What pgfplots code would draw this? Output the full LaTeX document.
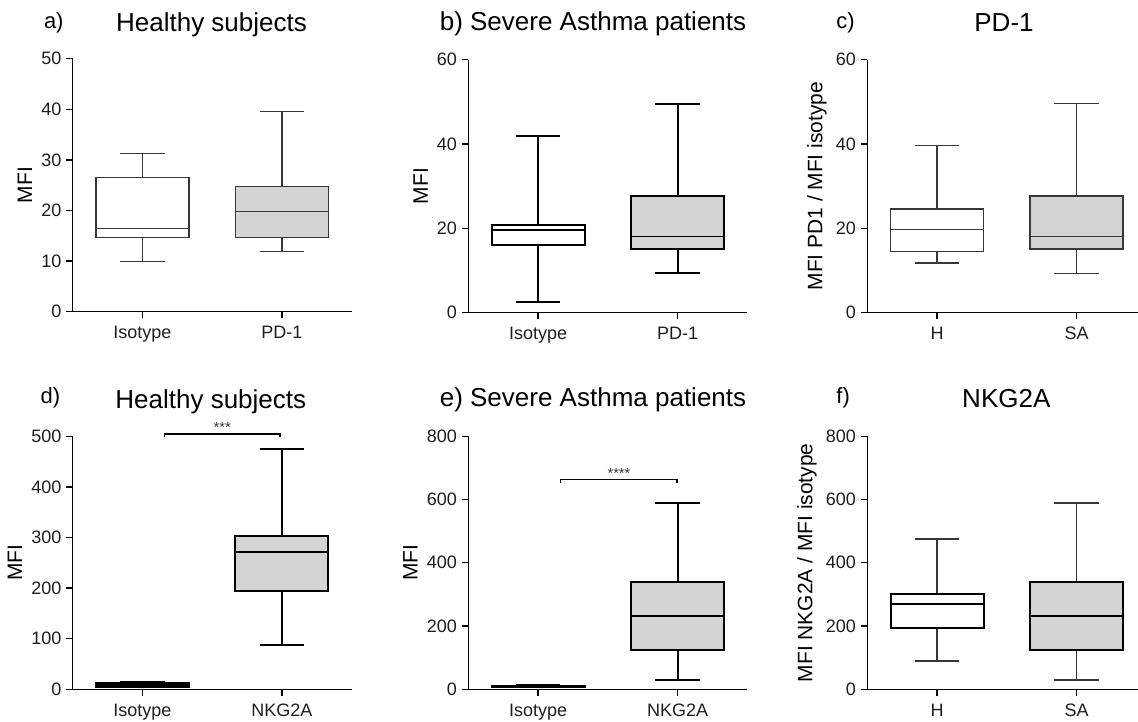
\documentclass[border=0pt]{standalone}
\usepackage{fontspec}
\setmainfont{Liberation Sans}
\usepackage{pgfplots}
\pgfplotsset{compat=1.18}
\usepgfplotslibrary{statistics}
\definecolor{boxgray}{RGB}{212,212,212}
\definecolor{tickgray}{RGB}{30,30,30}
\definecolor{linegray}{RGB}{55,55,55}

\pgfplotsset{
  gp/.style={
    scale only axis, width=209.25pt, height=189.75pt,
    axis lines=left, axis line style={-, black, line width=1.1pt},
    xmin=-0.5, xmax=1.5, ymin=0,
    xtick={0,1},
    tick align=outside, major tick length=5pt,
    tick style={black, line width=1pt},
    ticklabel style={font=\fontsize{13.5}{13.5}\selectfont, text=tickgray},
    xticklabel style={yshift=-2.5pt},
    /pgf/number format/assume math mode=true,
    ylabel style={font=\fontsize{15.7}{15.7}\selectfont},
    boxplot/draw direction=y,
    boxplot/box extend=0.667,
    boxplot/whisker extend=0.32,
    clip=false,
  }
}
\newcommand{\ttl}{\fontsize{19.5}{19.5}\selectfont}
\newcommand{\lbl}{\fontsize{16.5}{16.5}\selectfont}

\begin{document}
\begin{tikzpicture}[x=0.75pt,y=0.75pt]
\useasboundingbox (0,0) rectangle (1138,721);

% ---------- a) ----------
\begin{axis}[gp, at={(54.525pt,306.975pt)}, anchor=south west,
  ymax=50, ytick={0,10,...,50}, xticklabels={Isotype,PD-1}, ylabel={MFI}]
\addplot[draw=linegray, fill=white, line width=0.9pt,
  boxplot prepared={lower whisker=9.9, lower quartile=14.6, median=16.5,
  upper quartile=26.5, upper whisker=31.2, draw position=0}] coordinates {};
\addplot[draw=linegray, fill=boxgray, line width=0.9pt,
  boxplot prepared={lower whisker=11.9, lower quartile=14.6, median=19.75,
  upper quartile=24.7, upper whisker=39.6, draw position=1}] coordinates {};
\end{axis}

% ---------- b) ----------
\begin{axis}[gp, at={(351.225pt,306.225pt)}, anchor=south west,
  ymax=60, ytick={0,20,40,60}, xticklabels={Isotype,PD-1}, ylabel={MFI}]
\addplot[draw=black, fill=white, line width=1.5pt,
  boxplot prepared={lower whisker=2.5, lower quartile=16.0, median=19.7,
  upper quartile=20.9, upper whisker=41.9, draw position=0}] coordinates {};
\addplot[draw=black, fill=boxgray, line width=1.5pt,
  boxplot/every median/.style={line width=0.9pt},
  boxplot prepared={lower whisker=9.3, lower quartile=15.1, median=18.1,
  upper quartile=27.7, upper whisker=49.6, draw position=1}] coordinates {};
\end{axis}

% ---------- c) ----------
\begin{axis}[gp, at={(650.475pt,306.225pt)}, anchor=south west,
  ymax=60, ytick={0,20,40,60}, xticklabels={H,SA}, ylabel={MFI PD1 / MFI isotype}]
\addplot[draw=linegray, fill=white, line width=1pt,
  boxplot prepared={lower whisker=11.8, lower quartile=14.5, median=19.7,
  upper quartile=24.6, upper whisker=39.6, draw position=0}] coordinates {};
\addplot[draw=linegray, fill=boxgray, line width=1pt,
  boxplot prepared={lower whisker=9.3, lower quartile=15.1, median=18.1,
  upper quartile=27.7, upper whisker=49.6, draw position=1}] coordinates {};
\end{axis}

% ---------- d) ----------
\begin{axis}[gp, at={(54.525pt,23.775pt)}, anchor=south west,
  ymax=500, ytick={0,100,...,500}, xticklabels={Isotype,NKG2A}, ylabel={MFI}]
\addplot[draw=black, fill=boxgray!60!black, line width=1.5pt,
  boxplot prepared={lower whisker=4, lower quartile=5.5, median=9,
  upper quartile=12.5, upper whisker=14, draw position=0}] coordinates {};
\addplot[draw=black, fill=boxgray, line width=1.5pt,
  boxplot prepared={lower whisker=88, lower quartile=195, median=271,
  upper quartile=302, upper whisker=475, draw position=1}] coordinates {};
\draw[line width=1pt] (0.158,498) -- (0.158,504.5) -- (0.986,504.5) -- (0.986,498);
\node[anchor=base, font=\fontsize{11}{11}\selectfont, text=linegray, inner sep=0pt] at (0.572,507) {***};
\end{axis}

% ---------- e) ----------
\begin{axis}[gp, at={(351.225pt,23.775pt)}, anchor=south west,
  ymax=800, ytick={0,200,...,800}, xticklabels={Isotype,NKG2A}, ylabel={MFI}]
\addplot[draw=black, fill=black, line width=1.5pt,
  boxplot prepared={lower whisker=6, lower quartile=8.5, median=10,
  upper quartile=11.5, upper whisker=13, draw position=0}] coordinates {};
\addplot[draw=black, fill=boxgray, line width=1.5pt,
  boxplot prepared={lower whisker=29.5, lower quartile=125, median=231,
  upper quartile=338, upper whisker=589, draw position=1}] coordinates {};
\draw[line width=1pt] (0.161,651) -- (0.161,664) -- (0.996,664) -- (0.996,651);
\node[anchor=base, font=\fontsize{11}{11}\selectfont, text=linegray, inner sep=0pt] at (0.58,667) {****};
\end{axis}

% ---------- f) ----------
\begin{axis}[gp, at={(650.475pt,23.775pt)}, anchor=south west,
  ymax=800, ytick={0,200,...,800}, xticklabels={H,SA}, ylabel={MFI NKG2A / MFI isotype}]
\addplot[draw=black, fill=white, line width=1.5pt,
  boxplot/every whisker/.style={line width=0.9pt, draw=linegray},
  boxplot prepared={lower whisker=89.6, lower quartile=195, median=271,
  upper quartile=300, upper whisker=475, draw position=0}] coordinates {};
\addplot[draw=black, fill=boxgray, line width=1.5pt,
  boxplot/every whisker/.style={line width=0.9pt, draw=linegray},
  boxplot prepared={lower whisker=29.5, lower quartile=125, median=231,
  upper quartile=338, upper whisker=589, draw position=1}] coordinates {};
\end{axis}

% ---------- titles ----------
\node[anchor=base west, font=\lbl] at (39.3,692) {a)};
\node[anchor=base, font=\ttl] at (211.5,689.3) {Healthy subjects};
\node[anchor=base, font=\ttl] at (593,690.3) {b) Severe Asthma patients};
\node[anchor=base west, font=\lbl] at (831.7,692) {c)};
\node[anchor=base, font=\ttl] at (1004,689.3) {PD-1};
\node[anchor=base west, font=\lbl] at (36,317) {d)};
\node[anchor=base, font=\ttl] at (210.8,312.7) {Healthy subjects};
\node[anchor=base, font=\ttl] at (593,314.3) {e) Severe Asthma patients};
\node[anchor=base west, font=\lbl] at (831.7,317) {f)};
\node[anchor=base, font=\ttl] at (1006.3,313) {NKG2A};
\end{tikzpicture}
\end{document}
